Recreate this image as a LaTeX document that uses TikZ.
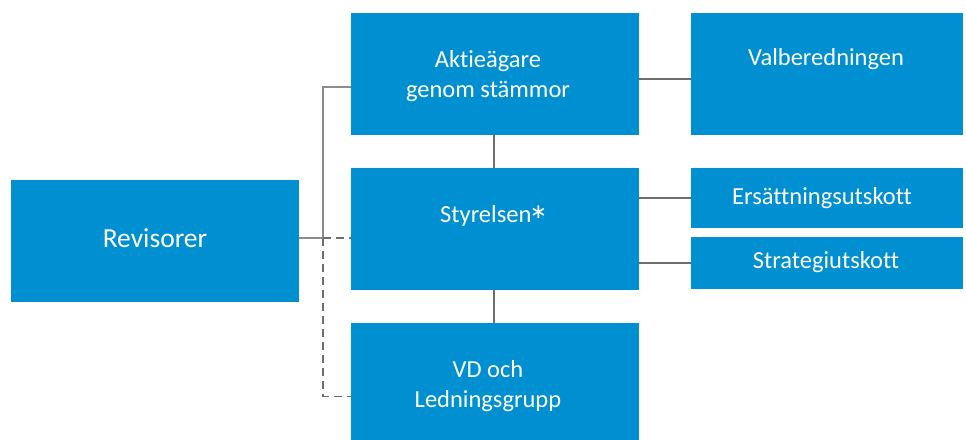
\documentclass[tikz,border=0pt]{standalone}
\usepackage{fontspec}
\usepackage{graphicx}
\setmainfont{Carlito}[Ligatures=NoCommon]
\definecolor{boxblue}{RGB}{0,143,208}
\definecolor{linedark}{RGB}{110,110,110}
\definecolor{linelight}{RGB}{140,140,140}
\newcommand{\bigast}{\kern-3pt\raisebox{-13pt}{\scalebox{1.7}{*}}}
\begin{document}
\begin{tikzpicture}[x=1pt,y=-1pt,
  box/.style={fill=boxblue,draw=none,inner sep=0pt,outer sep=0pt,anchor=north west},
  lbl/.style={text=white,anchor=base,inner sep=0pt,font=\fontsize{24.5}{30}\selectfont},
  biglbl/.style={lbl,font=\fontsize{27.5}{33}\selectfont},
  conn/.style={draw=linedark,line width=1.8pt},
  connl/.style={draw=linelight,line width=1.6pt},
  dconn/.style={draw=linedark,line width=1.6pt,dash pattern=on 8pt off 5pt}]
\useasboundingbox (0,0) rectangle (966,439);
% boxes
\node[box,minimum width=288pt,minimum height=122pt] (rev) at (11,180) {};
\node[box,minimum width=288pt,minimum height=122pt] (akt) at (351,13) {};
\node[box,minimum width=288pt,minimum height=122pt] (sty) at (351,168) {};
\node[box,minimum width=288pt,minimum height=117pt] (vd) at (351,323) {};
\node[box,minimum width=272pt,minimum height=122pt] (val) at (691,13) {};
\node[box,minimum width=272pt,minimum height=60pt] (ers) at (691,168) {};
\node[box,minimum width=272pt,minimum height=52pt] (str) at (691,237) {};
% texts
\node[biglbl] (trev) at (155,247) {Revisorer};
\node[lbl] (takt1) at (488,67) {Aktieägare};
\node[lbl] (takt2) at (488,97) {genom stämmor};
\node[lbl,anchor=base west] (tsty) at (440,222) {Styrelsen\bigast};
\node[lbl] (tvd1) at (488,377) {VD och};
\node[lbl] (tvd2) at (488,407) {Ledningsgrupp};
\node[lbl] (tval) at (826,65) {Valberedningen};
\node[lbl] (ters) at (822,204) {Ersättningsutskott};
\node[lbl] (tstr) at (826,268) {Strategiutskott};
% connectors
\coordinate (j) at (323,238);
\draw[connl] ([yshift=-13pt]akt.west) -| (j) -- (j -| rev.east);
\draw[dconn] (j) -- (j -| sty.west);
\draw[dconn] (j) |- ([yshift=-15pt]vd.west);
\draw[conn] ([yshift=-5pt]akt.east) -- ([yshift=-5pt]akt.east -| val.west);
\draw[conn] (akt.south -| 494,0) -- (sty.north -| 494,0);
\draw[conn] (sty.south -| 494,0) -- (vd.north -| 494,0);
\draw[conn] (ers.west -| sty.east) -- (ers.west);
\draw[conn] (str.west -| sty.east) -- (str.west);
\end{tikzpicture}
\end{document}
